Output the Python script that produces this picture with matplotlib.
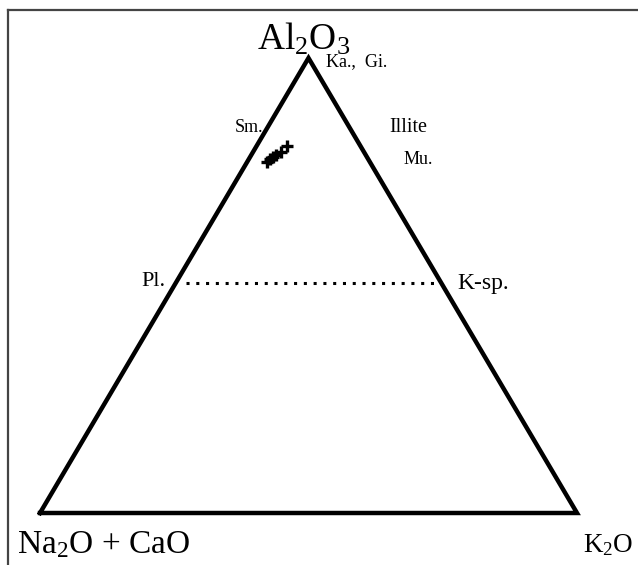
import numpy as np
import matplotlib
matplotlib.use("Agg")
import matplotlib.pyplot as plt
from matplotlib.lines import Line2D

plt.rcParams['font.family'] = ['Liberation Serif', 'DejaVu Serif']
plt.rcParams['mathtext.fontset'] = 'custom'
plt.rcParams['mathtext.rm'] = 'Liberation Serif'
plt.rcParams['mathtext.it'] = 'Liberation Serif:italic'

# samples (wt% normalised): Al2O3, Na2O+CaO, K2O
al2o3 = [77.1, 77.8, 78.2, 78.7, 79.3, 80.7]
k2o = [3.7, 3.9, 4.3, 4.6, 5.2, 5.6]
cnk = [100 - a - k for a, k in zip(al2o3, k2o)]

# feldspar join (Pl. - K-sp.) at ~50 % Al2O3
feld_al = [50.5, 50.5]
feld_k = [2.0, 48.5]


def tern(a, k):
    a = np.asarray(a) / 100.0
    k = np.asarray(k) / 100.0
    return k + a / 2, a


# pixel layout of the reference: vertices at x=40/577, base y=513, apex y=58
X0, XS, Y0, YS = 40, 537, 513, 455


def px(x, y):
    return (x - X0) / XS, (Y0 - y) / YS


fig = plt.figure(figsize=(6.38, 5.65), dpi=100)
ax = fig.add_axes([0, 0, 1, 1])
ax.set_xlim(-X0 / XS, (638 - X0) / XS)
ax.set_ylim(-(565 - Y0) / YS, Y0 / YS)
ax.axis('off')

# frame on top and left
fig.add_artist(Line2D([8 / 638, 1], [1 - 10 / 565, 1 - 10 / 565], color='#444444', lw=1.6))
fig.add_artist(Line2D([8 / 638, 8 / 638], [0, 1 - 10 / 565], color='#444444', lw=1.6))

# triangle
tx, ty = tern([0, 100, 0, 0], [0, 0, 100, 0])
ax.plot(tx, ty, color='black', lw=3.2, solid_joinstyle='miter')

fx, fy = tern(feld_al, feld_k)
ax.plot(fx, fy, color='black', lw=2.2, linestyle=(0, (1, 2.2)))

sx, sy = tern(al2o3, k2o)
ax.plot(sx, sy, '+', color='black', ms=9, mew=2.4)

ax.text(*px(304, 39), r'Al$_2$O$_3$', fontsize=27, ha='center', va='center')
ax.text(*px(326, 62), 'Ka.,  Gi.', fontsize=13, ha='left', va='center')
ax.text(*px(263, 128), 'Sm.', fontsize=13, ha='right', va='center')
ax.text(*px(389, 128), 'Illite', fontsize=14.5, ha='left', va='center')
ax.text(*px(404, 160), 'Mu.', fontsize=13, ha='left', va='center')
ax.text(*px(166, 282), 'Pl.', fontsize=16, ha='right', va='center')
ax.text(*px(457, 283), 'K-sp.', fontsize=17, ha='left', va='center')
ax.text(*px(17, 545), r'Na$_2$O + CaO', fontsize=24, ha='left', va='center')
ax.text(*px(633, 545), r'K$_2$O', fontsize=19.5, ha='right', va='center')

fig.savefig('out.png', dpi=100)
